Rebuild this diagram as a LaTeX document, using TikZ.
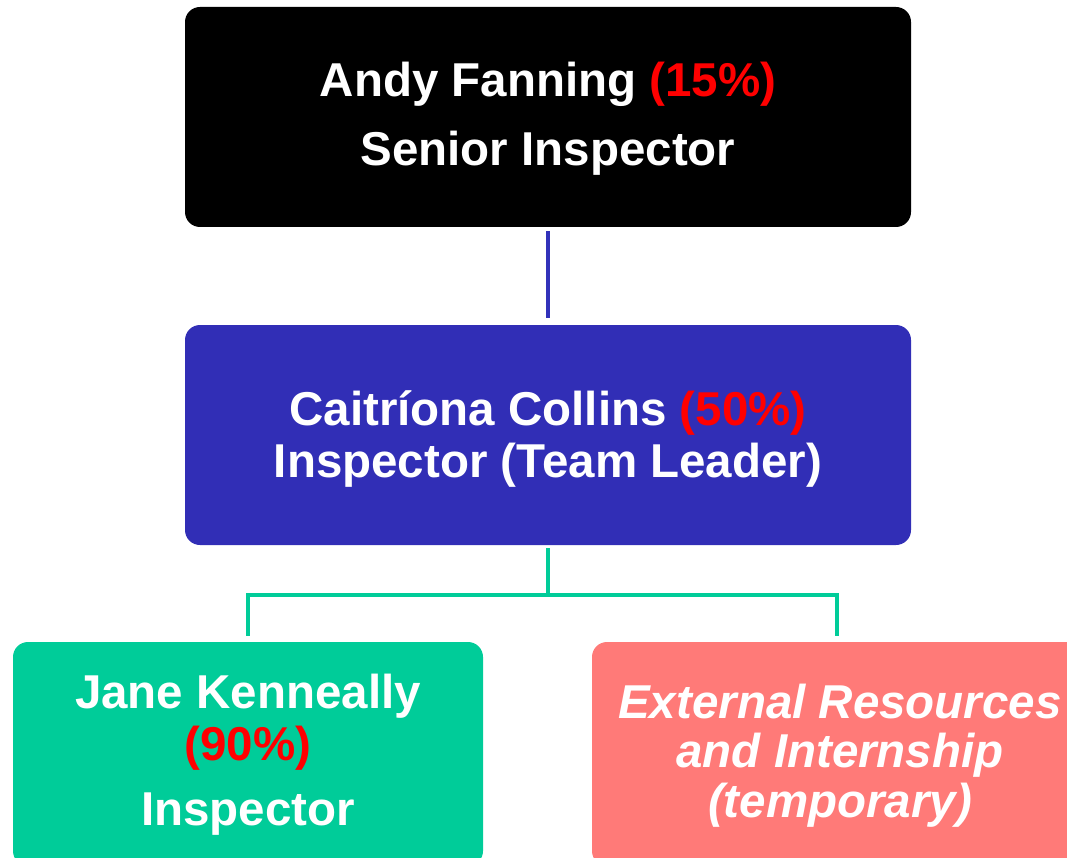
\documentclass[tikz,border=0pt]{standalone}
\usepackage{fontspec}
\setmainfont{Liberation Sans}
\definecolor{topfill}{HTML}{000000}
\definecolor{midfill}{HTML}{312EB6}
\definecolor{midline}{HTML}{3232BA}
\definecolor{greenfill}{HTML}{00CC99}
\definecolor{salmonfill}{HTML}{FF7A78}
\definecolor{pct}{HTML}{FF0000}
\begin{document}
\begin{tikzpicture}[x=1pt,y=-1pt,
  box/.style={rounded corners=15pt, inner sep=0pt, draw=none},
  lbl/.style={anchor=base, inner sep=0pt, text=white, font=\fontsize{47.5}{57}\selectfont\bfseries},
  ilbl/.style={lbl, font=\fontsize{47.5}{57}\selectfont\bfseries\itshape},
  blueconn/.style={draw=midline, line width=4pt},
  greenconn/.style={draw=greenfill, line width=4pt}]
\useasboundingbox (0,0) rectangle (1067,858);
\clip (0,0) rectangle (1067,858);
% boxes
\node[box, fill=topfill, minimum width=726pt, minimum height=220pt] (top) at (548,117) {};
\node[box, fill=midfill, minimum width=726pt, minimum height=220pt] (mid) at (548,435) {};
\node[box, fill=greenfill, minimum width=470pt, minimum height=224pt] (left) at (248,754) {};
\node[box, fill=salmonfill, minimum width=490pt, minimum height=224pt] (right) at (837,754) {};
% connectors
\draw[blueconn, shorten <=4pt, shorten >=7pt] (top.south) -- (mid.north);
\coordinate (junc) at (548,595);
\draw[greenconn, shorten <=3pt] (mid.south) -- (junc);
\draw[greenconn, shorten >=6pt] (junc) -| (left.north);
\draw[greenconn, shorten >=6pt] (junc) -| (right.north);
% texts
\node[lbl] (t1) at (548,97) {Andy Fanning \textcolor{pct}{(15\%)}};
\node[lbl] (t2) at (548,166) {Senior Inspector};
\node[lbl] (m1) at (548,425) {Caitríona Collins \textcolor{pct}{(50\%)}};
\node[lbl] (m2) at (548,477) {Inspector (Team Leader)};
\node[lbl] (l1) at (248,708) {Jane Kenneally};
\node[lbl] (l2) at (248,760) {\textcolor{pct}{(90\%)}};
\node[lbl] (l3) at (248,825) {Inspector};
\node[ilbl] (r1) at (840,718) {External Resources};
\node[ilbl] (r2) at (840,767) {and Internship};
\node[ilbl] (r3) at (840,817) {(temporary)};
\end{tikzpicture}
\end{document}
